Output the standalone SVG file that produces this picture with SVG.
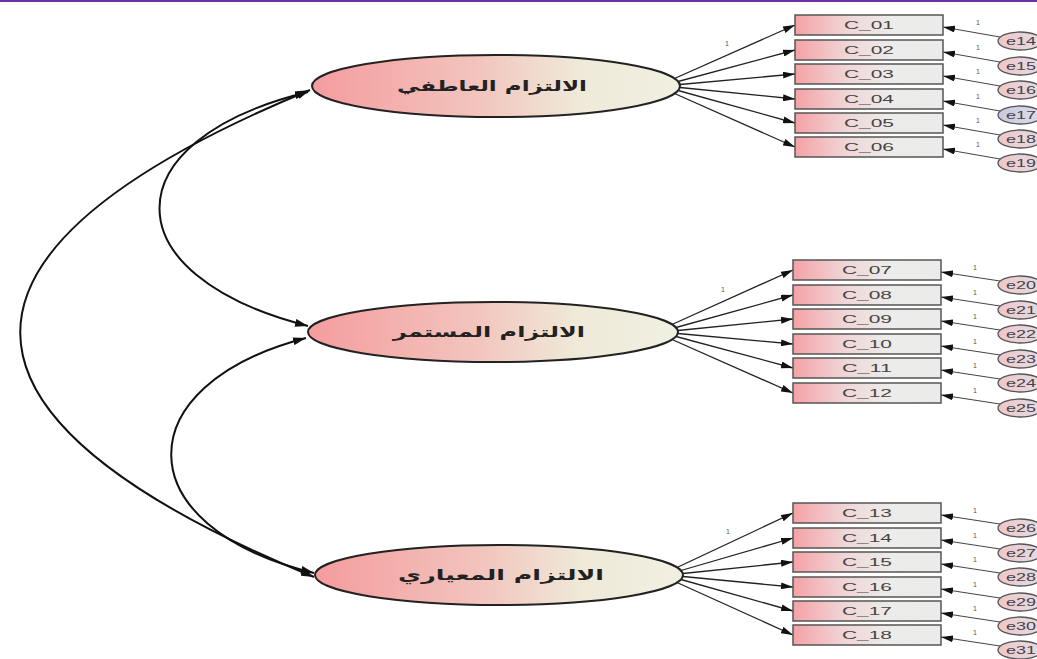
<svg xmlns="http://www.w3.org/2000/svg" width="1037" height="659" viewBox="0 0 1037 659">
  <defs>
    <linearGradient id="gLatent" x1="0" y1="0" x2="1" y2="0">
      <stop offset="0" stop-color="#f59c9e"/>
      <stop offset="0.45" stop-color="#f2c4bd"/>
      <stop offset="0.72" stop-color="#efe9d8"/>
      <stop offset="1" stop-color="#f0f0e2"/>
    </linearGradient>
    <linearGradient id="gBox" x1="0" y1="0" x2="1" y2="0">
      <stop offset="0" stop-color="#f4a2a6"/>
      <stop offset="0.35" stop-color="#f0d6d7"/>
      <stop offset="0.65" stop-color="#ececea"/>
      <stop offset="1" stop-color="#ebebeb"/>
    </linearGradient>
    <linearGradient id="gErr" x1="0" y1="0" x2="1" y2="0">
      <stop offset="0" stop-color="#f0c6ca"/>
      <stop offset="1" stop-color="#e2dde4"/>
    </linearGradient>
    <linearGradient id="gErrBlue" x1="0" y1="0" x2="1" y2="0">
      <stop offset="0" stop-color="#c9c9e2"/>
      <stop offset="1" stop-color="#dcdcea"/>
    </linearGradient>
    <marker id="arr" viewBox="0 0 12 7" refX="12" refY="3.5" markerWidth="12" markerHeight="7" markerUnits="userSpaceOnUse" orient="auto">
      <path d="M0,0 L12,3.5 L0,7 z" fill="#111"/>
    </marker>
    <marker id="arrCov" viewBox="0 0 13 8" refX="13" refY="4" markerWidth="13" markerHeight="8" markerUnits="userSpaceOnUse" orient="auto-start-reverse">
      <path d="M0,0 L13,4 L0,8 z" fill="#111"/>
    </marker>
  </defs>
  <style>
    .latent { fill: url(#gLatent); stroke: #222; stroke-width: 2; }
    .latent-label { font-family: "DejaVu Sans", sans-serif; font-size: 15px; font-weight: bold; fill: #222; text-anchor: middle; }
    .obs { fill: url(#gBox); stroke: #555; stroke-width: 1.5; }
    .obs-label { font-family: "Liberation Sans", Arial, sans-serif; font-size: 11px; fill: #444; text-anchor: middle; }
    .err { fill: url(#gErr); stroke: #555; stroke-width: 1.3; }
    .err.blue { fill: url(#gErrBlue); }
    .err-label { font-family: "Liberation Sans", Arial, sans-serif; font-size: 11px; fill: #444; text-anchor: middle; }
    .load { stroke: #222; stroke-width: 1.3; fill: none; marker-end: url(#arr); }
    .errpath { stroke: #444; stroke-width: 1; fill: none; marker-end: url(#arr); }
    .cov { stroke: #111; stroke-width: 2; fill: none; marker-start: url(#arrCov); marker-end: url(#arrCov); }
    .one { font-family: "Liberation Sans", Arial, sans-serif; font-size: 7px; fill: #555; text-anchor: middle; }
  </style>

  <rect x="0" y="0" width="1037" height="2" fill="#7030a0"/>

  <!-- connectors -->
  <g id="connectors">
    <!-- covariances between latent factors -->
    <path class="cov" d="M310,90 C-77,250 -77,416 314,577"/>
    <path class="cov" d="M308,92 C110,140 110,276 308,326"/>
    <path class="cov" d="M306,338 C125,385 125,527 314,573"/>

    <!-- loadings: factor 1 -->
    <line class="load" x1="674.5" y1="78.5" x2="795" y2="25"/>
    <line class="load" x1="678" y1="81.5" x2="795" y2="50"/>
    <line class="load" x1="680" y1="84.5" x2="795" y2="74"/>
    <line class="load" x1="680" y1="87.5" x2="795" y2="99"/>
    <line class="load" x1="678" y1="90.5" x2="795" y2="123"/>
    <line class="load" x1="674.5" y1="93.5" x2="795" y2="147"/>
    <!-- loadings: factor 2 -->
    <line class="load" x1="672" y1="324.5" x2="793" y2="270"/>
    <line class="load" x1="676" y1="327.5" x2="793" y2="295"/>
    <line class="load" x1="678" y1="330.5" x2="793" y2="319"/>
    <line class="load" x1="678" y1="333.5" x2="793" y2="344"/>
    <line class="load" x1="676" y1="336.5" x2="793" y2="368"/>
    <line class="load" x1="672" y1="339.5" x2="793" y2="393"/>
    <!-- loadings: factor 3 -->
    <line class="load" x1="677" y1="567.5" x2="793" y2="513"/>
    <line class="load" x1="681" y1="570.5" x2="793" y2="538"/>
    <line class="load" x1="683" y1="573.5" x2="793" y2="562"/>
    <line class="load" x1="683" y1="576.5" x2="793" y2="587"/>
    <line class="load" x1="681" y1="579.5" x2="793" y2="611"/>
    <line class="load" x1="677" y1="582.5" x2="793" y2="635"/>

    <text class="one" x="727" y="46">1</text>
    <text class="one" x="723" y="292">1</text>
    <text class="one" x="728" y="534">1</text>

    <!-- error terms -->
    <line class="errpath" x1="1000" y1="37" x2="943" y2="27"/>
    <line class="errpath" x1="1000" y1="62" x2="943" y2="52"/>
    <line class="errpath" x1="1000" y1="86" x2="943" y2="76"/>
    <line class="errpath" x1="1000" y1="111" x2="943" y2="101"/>
    <line class="errpath" x1="1000" y1="135" x2="943" y2="125"/>
    <line class="errpath" x1="1000" y1="159" x2="943" y2="149"/>

    <line class="errpath" x1="1000" y1="281" x2="941" y2="272"/>
    <line class="errpath" x1="1000" y1="306" x2="941" y2="297"/>
    <line class="errpath" x1="1000" y1="330" x2="941" y2="321"/>
    <line class="errpath" x1="1000" y1="355" x2="941" y2="346"/>
    <line class="errpath" x1="1000" y1="379" x2="941" y2="370"/>
    <line class="errpath" x1="1000" y1="404" x2="941" y2="395"/>

    <line class="errpath" x1="1000" y1="524" x2="941" y2="515"/>
    <line class="errpath" x1="1000" y1="549" x2="941" y2="540"/>
    <line class="errpath" x1="1000" y1="573" x2="941" y2="564"/>
    <line class="errpath" x1="1000" y1="598" x2="941" y2="589"/>
    <line class="errpath" x1="1000" y1="622" x2="941" y2="613"/>
    <line class="errpath" x1="1000" y1="646" x2="941" y2="637"/>

    <text class="one" x="978" y="25">1</text>
    <text class="one" x="978" y="50">1</text>
    <text class="one" x="978" y="74">1</text>
    <text class="one" x="978" y="99">1</text>
    <text class="one" x="978" y="123">1</text>
    <text class="one" x="978" y="147">1</text>
    <text class="one" x="975" y="270">1</text>
    <text class="one" x="975" y="295">1</text>
    <text class="one" x="975" y="319">1</text>
    <text class="one" x="975" y="344">1</text>
    <text class="one" x="975" y="368">1</text>
    <text class="one" x="975" y="393">1</text>
    <text class="one" x="975" y="513">1</text>
    <text class="one" x="975" y="538">1</text>
    <text class="one" x="975" y="562">1</text>
    <text class="one" x="975" y="587">1</text>
    <text class="one" x="975" y="611">1</text>
    <text class="one" x="975" y="635">1</text>
  </g>

  <!-- latent factors -->
  <g id="f1">
    <ellipse class="latent" cx="496" cy="86" rx="184" ry="31"/>
    <text class="latent-label" x="492" y="91" textLength="190" lengthAdjust="spacingAndGlyphs">الالتزام العاطفي</text>
  </g>
  <g id="f2">
    <ellipse class="latent" cx="493" cy="332" rx="185" ry="30"/>
    <text class="latent-label" x="489" y="337" textLength="192" lengthAdjust="spacingAndGlyphs">الالتزام المستمر</text>
  </g>
  <g id="f3">
    <ellipse class="latent" cx="499" cy="575" rx="184" ry="30"/>
    <text class="latent-label" x="501" y="580" textLength="206" lengthAdjust="spacingAndGlyphs">الالتزام المعياري</text>
  </g>

  <!-- observed indicators -->
  <g id="C_01"><rect class="obs" x="795" y="15" width="148" height="20"/><text class="obs-label" x="869" y="29" textLength="50" lengthAdjust="spacingAndGlyphs">C_01</text></g>
  <g id="C_02"><rect class="obs" x="795" y="40" width="148" height="20"/><text class="obs-label" x="869" y="54" textLength="50" lengthAdjust="spacingAndGlyphs">C_02</text></g>
  <g id="C_03"><rect class="obs" x="795" y="64" width="148" height="20"/><text class="obs-label" x="869" y="78" textLength="50" lengthAdjust="spacingAndGlyphs">C_03</text></g>
  <g id="C_04"><rect class="obs" x="795" y="89" width="148" height="20"/><text class="obs-label" x="869" y="103" textLength="50" lengthAdjust="spacingAndGlyphs">C_04</text></g>
  <g id="C_05"><rect class="obs" x="795" y="113" width="148" height="20"/><text class="obs-label" x="869" y="127" textLength="50" lengthAdjust="spacingAndGlyphs">C_05</text></g>
  <g id="C_06"><rect class="obs" x="795" y="137" width="148" height="20"/><text class="obs-label" x="869" y="151" textLength="50" lengthAdjust="spacingAndGlyphs">C_06</text></g>

  <g id="C_07"><rect class="obs" x="793" y="260" width="148" height="20"/><text class="obs-label" x="867" y="274" textLength="50" lengthAdjust="spacingAndGlyphs">C_07</text></g>
  <g id="C_08"><rect class="obs" x="793" y="285" width="148" height="20"/><text class="obs-label" x="867" y="299" textLength="50" lengthAdjust="spacingAndGlyphs">C_08</text></g>
  <g id="C_09"><rect class="obs" x="793" y="309" width="148" height="20"/><text class="obs-label" x="867" y="323" textLength="50" lengthAdjust="spacingAndGlyphs">C_09</text></g>
  <g id="C_10"><rect class="obs" x="793" y="334" width="148" height="20"/><text class="obs-label" x="867" y="348" textLength="50" lengthAdjust="spacingAndGlyphs">C_10</text></g>
  <g id="C_11"><rect class="obs" x="793" y="358" width="148" height="20"/><text class="obs-label" x="867" y="372" textLength="50" lengthAdjust="spacingAndGlyphs">C_11</text></g>
  <g id="C_12"><rect class="obs" x="793" y="383" width="148" height="20"/><text class="obs-label" x="867" y="397" textLength="50" lengthAdjust="spacingAndGlyphs">C_12</text></g>

  <g id="C_13"><rect class="obs" x="793" y="503" width="148" height="20"/><text class="obs-label" x="867" y="517" textLength="50" lengthAdjust="spacingAndGlyphs">C_13</text></g>
  <g id="C_14"><rect class="obs" x="793" y="528" width="148" height="20"/><text class="obs-label" x="867" y="542" textLength="50" lengthAdjust="spacingAndGlyphs">C_14</text></g>
  <g id="C_15"><rect class="obs" x="793" y="552" width="148" height="20"/><text class="obs-label" x="867" y="566" textLength="50" lengthAdjust="spacingAndGlyphs">C_15</text></g>
  <g id="C_16"><rect class="obs" x="793" y="577" width="148" height="20"/><text class="obs-label" x="867" y="591" textLength="50" lengthAdjust="spacingAndGlyphs">C_16</text></g>
  <g id="C_17"><rect class="obs" x="793" y="601" width="148" height="20"/><text class="obs-label" x="867" y="615" textLength="50" lengthAdjust="spacingAndGlyphs">C_17</text></g>
  <g id="C_18"><rect class="obs" x="793" y="625" width="148" height="20"/><text class="obs-label" x="867" y="639" textLength="50" lengthAdjust="spacingAndGlyphs">C_18</text></g>

  <!-- residual terms -->
  <g id="e14"><ellipse class="err" cx="1020" cy="41" rx="22" ry="9"/><text class="err-label" x="1021" y="45" textLength="30" lengthAdjust="spacingAndGlyphs">e14</text></g>
  <g id="e15"><ellipse class="err" cx="1020" cy="66" rx="22" ry="9"/><text class="err-label" x="1021" y="70" textLength="30" lengthAdjust="spacingAndGlyphs">e15</text></g>
  <g id="e16"><ellipse class="err" cx="1020" cy="90" rx="22" ry="9"/><text class="err-label" x="1021" y="94" textLength="30" lengthAdjust="spacingAndGlyphs">e16</text></g>
  <g id="e17"><ellipse class="err blue" cx="1020" cy="115" rx="22" ry="9"/><text class="err-label" x="1021" y="119" textLength="30" lengthAdjust="spacingAndGlyphs">e17</text></g>
  <g id="e18"><ellipse class="err" cx="1020" cy="139" rx="22" ry="9"/><text class="err-label" x="1021" y="143" textLength="30" lengthAdjust="spacingAndGlyphs">e18</text></g>
  <g id="e19"><ellipse class="err" cx="1020" cy="163" rx="22" ry="9"/><text class="err-label" x="1021" y="167" textLength="30" lengthAdjust="spacingAndGlyphs">e19</text></g>

  <g id="e20"><ellipse class="err" cx="1020" cy="285" rx="22" ry="9"/><text class="err-label" x="1021" y="289" textLength="30" lengthAdjust="spacingAndGlyphs">e20</text></g>
  <g id="e21"><ellipse class="err" cx="1020" cy="310" rx="22" ry="9"/><text class="err-label" x="1021" y="314" textLength="30" lengthAdjust="spacingAndGlyphs">e21</text></g>
  <g id="e22"><ellipse class="err" cx="1020" cy="334" rx="22" ry="9"/><text class="err-label" x="1021" y="338" textLength="30" lengthAdjust="spacingAndGlyphs">e22</text></g>
  <g id="e23"><ellipse class="err" cx="1020" cy="359" rx="22" ry="9"/><text class="err-label" x="1021" y="363" textLength="30" lengthAdjust="spacingAndGlyphs">e23</text></g>
  <g id="e24"><ellipse class="err" cx="1020" cy="383" rx="22" ry="9"/><text class="err-label" x="1021" y="387" textLength="30" lengthAdjust="spacingAndGlyphs">e24</text></g>
  <g id="e25"><ellipse class="err" cx="1020" cy="408" rx="22" ry="9"/><text class="err-label" x="1021" y="412" textLength="30" lengthAdjust="spacingAndGlyphs">e25</text></g>

  <g id="e26"><ellipse class="err" cx="1020" cy="528" rx="22" ry="9"/><text class="err-label" x="1021" y="532" textLength="30" lengthAdjust="spacingAndGlyphs">e26</text></g>
  <g id="e27"><ellipse class="err" cx="1020" cy="553" rx="22" ry="9"/><text class="err-label" x="1021" y="557" textLength="30" lengthAdjust="spacingAndGlyphs">e27</text></g>
  <g id="e28"><ellipse class="err" cx="1020" cy="577" rx="22" ry="9"/><text class="err-label" x="1021" y="581" textLength="30" lengthAdjust="spacingAndGlyphs">e28</text></g>
  <g id="e29"><ellipse class="err" cx="1020" cy="602" rx="22" ry="9"/><text class="err-label" x="1021" y="606" textLength="30" lengthAdjust="spacingAndGlyphs">e29</text></g>
  <g id="e30"><ellipse class="err" cx="1020" cy="626" rx="22" ry="9"/><text class="err-label" x="1021" y="630" textLength="30" lengthAdjust="spacingAndGlyphs">e30</text></g>
  <g id="e31"><ellipse class="err" cx="1020" cy="650" rx="22" ry="9"/><text class="err-label" x="1021" y="654" textLength="30" lengthAdjust="spacingAndGlyphs">e31</text></g>
</svg>
